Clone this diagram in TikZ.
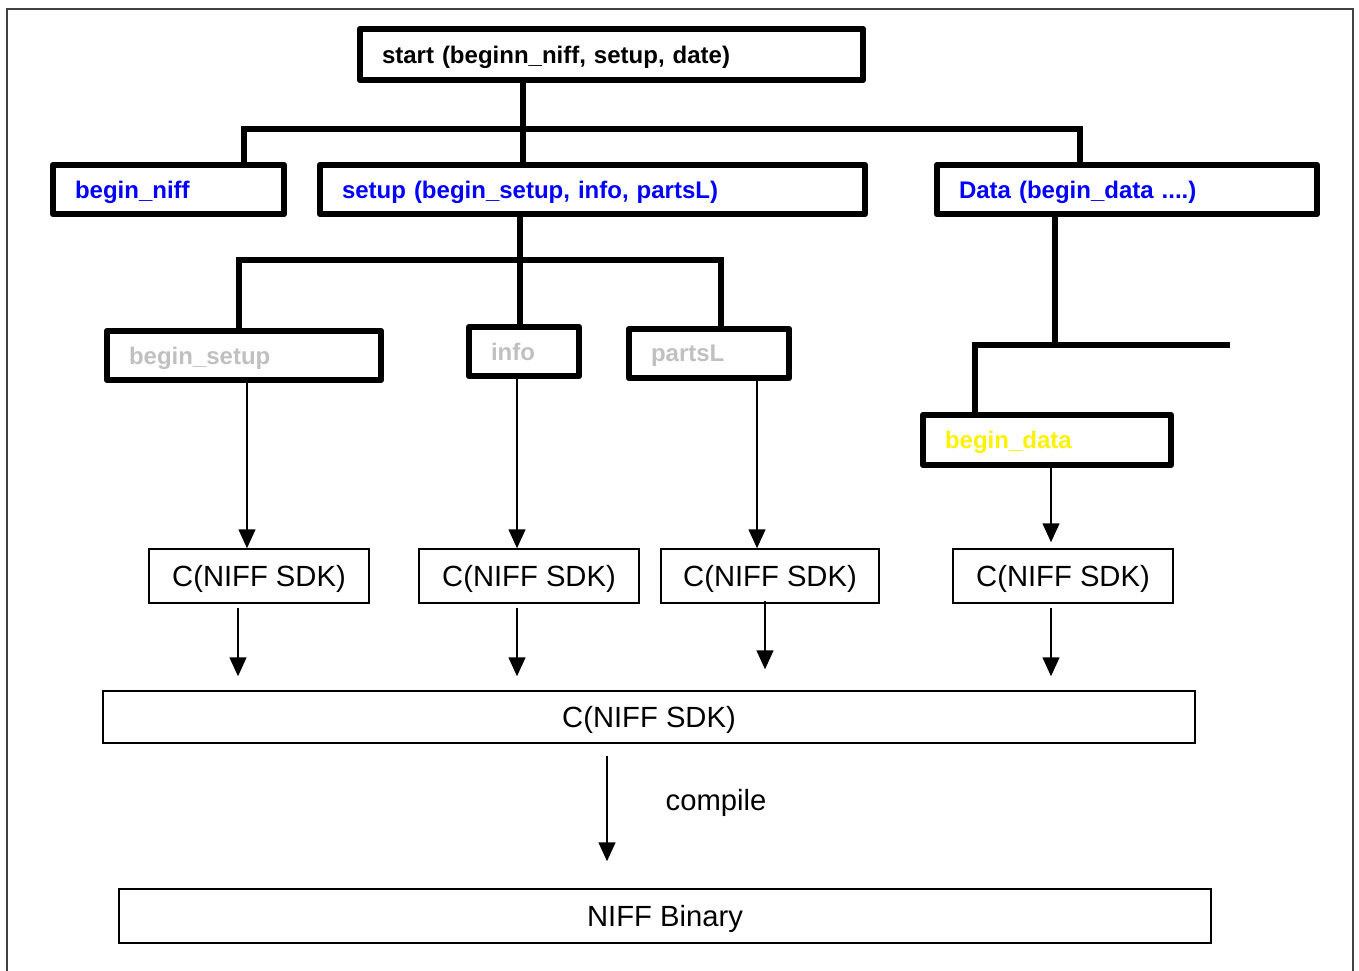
\documentclass[tikz,border=0pt]{standalone}
\usepackage{fontspec}
\setmainfont{Liberation Sans}
\usetikzlibrary{arrows.meta}
\definecolor{silver}{RGB}{192,192,192}

\begin{document}
\begin{tikzpicture}[x=0.5pt,y=-0.5pt,
  branch/.style={draw,line width=3.2pt,line join=round,inner xsep=11pt,inner ysep=0pt,
    text depth=0pt,align=left,minimum height=24.5pt,font=\fontsize{12}{14}\selectfont\bfseries},
  tree/.style={line width=3.4pt},
  cbox/.style={draw,line width=0.75pt,inner sep=0pt,minimum height=27pt,text depth=0pt,
    font=\fontsize{14.6}{17}\selectfont},
  flow/.style={line width=0.75pt,-{Triangle[width=8.5pt,length=9.5pt]}}]
\useasboundingbox (0,0) rectangle (1359,970);
\draw[line width=0.75pt,black!75] (7,985) -- (7,9) -- (1353,9) -- (1353,985);
%
\node[branch,text width=229.5pt,minimum height=25.5pt] (start) at (611.5,54.5) {start (beginn\_niff, setup, date)};
\node[branch,text width=93.5pt,text=blue] (niff) at (168.5,189.5) {begin\_niff};
\node[branch,text width=250.5pt,text=blue] (setup) at (592.5,189.5) {setup (begin\_setup, info, partsL)};
\node[branch,text width=168pt,text=blue] (data) at (1127,189.5) {Data (begin\_data ....)};
%
\node[branch,text width=115pt,text=silver] (bsetup) at (244,355.5) {begin\_setup};
\node[branch,text width=33pt,text=silver] (info) at (524,351.5) {info};
\node[branch,text width=58pt,text=silver] (parts) at (709,353.5) {partsL};
\node[branch,text width=102pt,text=yellow,minimum height=25pt] (bdata) at (1047,440) {begin\_data};
%
\node[cbox,minimum width=110pt] (c1) at (259,576) {C(NIFF SDK)};
\node[cbox,minimum width=110pt] (c2) at (529,576) {C(NIFF SDK)};
\node[cbox,minimum width=109pt] (c3) at (770,576) {C(NIFF SDK)};
\node[cbox,minimum width=110pt] (c4) at (1063,576) {C(NIFF SDK)};
\node[cbox,minimum width=546pt,minimum height=26pt] (sdk) at (649,717) {C(NIFF SDK)};
\node[cbox,minimum width=546pt] (bin) at (665,916) {NIFF Binary};
\node[font=\fontsize{14.6}{17}\selectfont,text depth=0pt] (lbl) at (716,800) {compile};
%
\coordinate (j1) at (523,129);
\coordinate (b1) at (244,129);
\coordinate (b2) at (1080,129);
\draw[tree] (start.south -| j1) -- (setup.north -| j1);
\draw[tree] (niff.north -| b1) -- (b1) -- (b2) -- (data.north -| b2);
%
\coordinate (j2) at (520,260);
\coordinate (b3) at (239,260);
\coordinate (b4) at (721,260);
\draw[tree] (setup.south -| j2) -- (info.north -| j2);
\draw[tree] (bsetup.north -| b3) -- (b3) -- (b4) -- (parts.north -| b4);
%
\coordinate (j3) at (1055,345);
\coordinate (b5) at (975,345);
\coordinate (b6) at (1230,345);
\draw[tree] (data.south -| j3) -- (j3);
\draw[tree] (bdata.north -| b5) -- (b5) -- (b6);
%
\foreach \s/\t/\x in {bsetup/c1/247,info/c2/517,parts/c3/757}{
  \coordinate (p) at (\x,0);
  \draw[flow] (\s.south -| p) -- (\t.north -| p);
}
\coordinate (p) at (1051,0);
\draw[flow,shorten >=3pt] (bdata.south -| p) -- (c4.north -| p);
%
\foreach \s/\x in {c1/238,c2/517,c4/1051}{
  \coordinate (p) at (\x,0);
  \draw[flow,shorten <=2pt,shorten >=7pt] (\s.south -| p) -- (sdk.north -| p);
}
\coordinate (p) at (765,0);
\draw[flow,shorten <=-1.5pt,shorten >=10.5pt] (c3.south -| p) -- (sdk.north -| p);
%
\coordinate (p) at (607,0);
\draw[flow,shorten <=6pt,shorten >=13.5pt] (sdk.south -| p) -- (bin.north -| p);
\end{tikzpicture}
\end{document}
